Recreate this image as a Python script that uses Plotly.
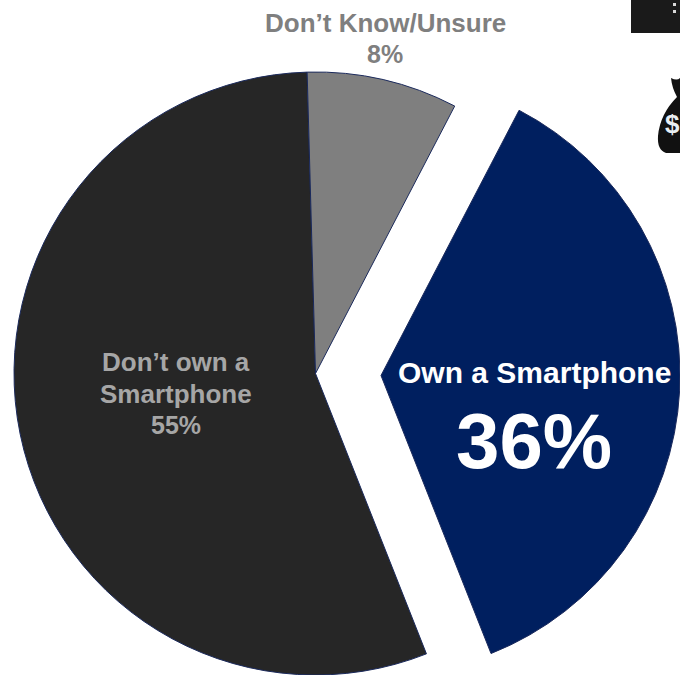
import plotly.graph_objects as go

segments = ["Own a Smartphone", "Don't own a Smartphone", "Don't Know/Unsure"]
shares = [36, 55, 8]
colors = ["#001f5f", "#262626", "#7f7f7f"]
FONT = "Liberation Sans"
W, H = 680, 675
START_ANGLE = 27.5
CLEAR = "rgba(0,0,0,0)"
EDGE = "#1b2a5c"


def domain_for(cx, cy, r):
    """Paper-space domain of a pie centred on (cx, cy) in pixels, y down."""
    return dict(x=[(cx - r) / W, (cx + r) / W], y=[1 - (cy + r) / H, 1 - (cy - r) / H])


def pie(slice_colors, line_widths, domain):
    return go.Pie(
        labels=segments, values=shares, sort=False, direction="clockwise",
        rotation=START_ANGLE, domain=domain, textinfo="none", hoverinfo="skip",
        showlegend=False,
        marker=dict(colors=slice_colors, line=dict(color=EDGE, width=line_widths)),
    )


# The owner slice sits in its own trace so it can be offset to the right.
fig = go.Figure([
    pie([CLEAR, colors[1], colors[2]], [0, 1, 1], domain_for(315.5, 373.5, 301.5)),
    pie([colors[0], CLEAR, CLEAR], [1, 0, 0], domain_for(381, 375.5, 299)),
])


def label(x, y, text, size, color):
    fig.add_annotation(x=x, y=y, xref="x", yref="y", text=f"<b>{text}</b>", showarrow=False,
                       font=dict(family=FONT, size=size, color=color))


label(385, 23, "Don’t Know/Unsure", 26, colors[2])
label(385, 54, f"{shares[2]}%", 25, colors[2])
label(176, 362, "Don’t own a", 26, "#a6a6a6")
label(176, 394, "Smartphone", 26, "#a6a6a6")
label(176, 425, f"{shares[1]}%", 25, "#a6a6a6")
label(534, 372, segments[0], 30, "white")
label(534, 441, f"{shares[0]}%", 78, "white")

# Black tag and money bag at the top right corner.
fig.add_shape(type="rect", x0=631, x1=680, y0=0, y1=33, xref="x", yref="y",
              fillcolor="#1a1a1a", line_width=0)
for y0, y1 in [(3, 6), (10, 13)]:
    fig.add_shape(type="rect", x0=673, x1=676, y0=y0, y1=y1, xref="x", yref="y",
                  fillcolor="#d9d9d9", line_width=0)
fig.add_shape(type="path", xref="x", yref="y", fillcolor="#111111", line_width=0,
              path="M 671 78 Q 677 81 680 78 L 680 153 L 666 153 Q 657 150 658 136 "
                   "Q 660 114 677 97 Q 672 88 671 78 Z")
label(672, 124, "$", 26, "#e8eef2")

fig.update_layout(
    width=W, height=H,
    margin=dict(l=0, r=0, t=0, b=0),
    paper_bgcolor="white",
    plot_bgcolor=CLEAR,
    xaxis=dict(range=[0, W], visible=False, fixedrange=True),
    yaxis=dict(range=[H, 0], visible=False, fixedrange=True),
)
fig.write_html("out.html")
